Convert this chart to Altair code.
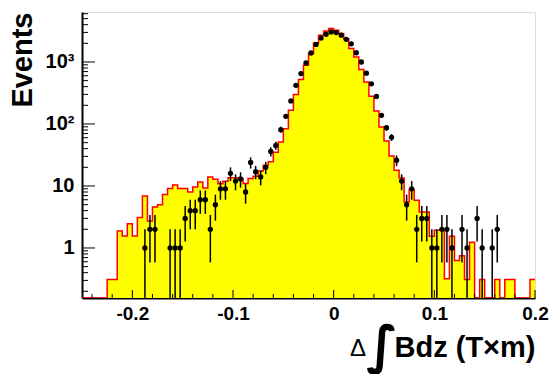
import altair as alt
import pandas as pd
import numpy as np

# ---------------- data ----------------
x_lo, x_hi = -0.25, 0.2
bin_w = 0.005
y_lo, y_hi = 0.156, 6400

sim_counts = [
    0, 0, 0, 0, 0,  0.31, 0.31, 1.88, 1.56, 2.47,
    1.56, 3.09, 6.9, 2.72, 4.58,  5.0, 7.3, 9.1, 10.4, 9.1,
    9.1, 8.0, 9.6, 11.6, 9.3,  14, 12.8, 10.9, 11.9, 13.6,
    13.6, 13.2, 11, 13.2, 14.3,  17.5, 21.5, 24.5, 35, 51,
    84, 167, 300, 520, 885,  1365, 2020, 2700, 3160, 3460,
    3250, 2870, 2380, 1645, 1205,  754, 475, 280, 162, 89,
    53, 30.5, 17.9, 13.5, 5.5,  8.7, 5.9, 3.8, 3.8, 1.55,
    1.93, 1.93, 0.32, 1.55, 0.63,  0.75, 0.31, 1.24, 0, 0.31,
    0, 0, 0.31, 0, 0.31,  0.31, 0, 0, 0, 0.31,
]

data_counts = [
    0, 0, 0, 0, 0,  0, 0, 0, 0, 0,
    0, 0, 1, 2, 2,  0, 0, 1, 1, 1,
    3, 4, 4, 6, 6,  2, 5, 9, 9, 16,
    12, 13, 8, 24, 17,  14, 20, 36, 45, 81,
    133, 235, 421, 650, 964,  1397, 1920, 2430, 2800, 3050,
    2980, 2710, 2320, 1960, 1410,  1000, 660, 445, 278, 138,
    87, 61, 26, 12, 5,  9, 2, 3, 3, 1,
    1, 2, 2, 1, 0,  2, 1, 0, 3, 1,
    0, 1, 2, 0, 0,  0, 0, 0, 0, 0,
]

x_major = [-0.2, -0.1, 0.0, 0.1, 0.2]
x_labels = ["-0.2", "-0.1", "0", "0.1", "0.2"]
x_minor = [-0.24, -0.22, -0.18, -0.16, -0.14, -0.12, -0.08, -0.06, -0.04,
           -0.02, 0.02, 0.04, 0.06, 0.08, 0.12, 0.14, 0.16, 0.18]
y_major = [1, 10, 100, 1000]
y_labels = ["1", "10", "10²", "10³"]
y_minor = [0.2, 0.3, 0.4, 0.5, 0.6, 0.7, 0.8, 0.9,
           2, 3, 4, 5, 6, 7, 8, 9,
           20, 30, 40, 50, 60, 70, 80, 90,
           200, 300, 400, 500, 600, 700, 800, 900,
           2000, 3000, 4000, 5000, 6000]
y_title = "Events"
x_title = "Bdz (T×m)"
delta_text = ["Δ"]
integral_text = ["∫"]

assert len(sim_counts) == 90 and len(data_counts) == 90

# ---------------- tables ----------------
n_bins = len(sim_counts)
edges = x_lo + bin_w * np.arange(n_bins + 1)
sim_vals = [max(v, y_lo) for v in sim_counts] + [max(sim_counts[-1], y_lo)]
hist_df = pd.DataFrame({"x": edges, "v": sim_vals, "base": y_lo})

centers = x_lo + bin_w * (np.arange(n_bins) + 0.5)
pts = pd.DataFrame({"x": centers, "n": data_counts})
pts = pts[pts["n"] > 0].copy()
pts["lo"] = np.maximum(pts["n"] - np.sqrt(pts["n"]), y_lo)
pts["hi"] = pts["n"] + np.sqrt(pts["n"])

FONT = "Liberation Sans"
W, H = 453, 286

xscale = alt.Scale(domain=[x_lo, x_hi], nice=False, zero=False)
yscale = alt.Scale(type="log", domain=[y_lo, y_hi], nice=False)

x_expr = " : ".join(
    f"abs(datum.value - ({v})) < 0.01 ? '{l}'" for v, l in zip(x_major, x_labels)
) + " : ''"
y_expr = " : ".join(
    f"abs(datum.value - {v}) < {v}*0.01 ? '{l}'" for v, l in zip(y_major, y_labels)
) + " : ''"

x_axis = alt.Axis(
    values=x_major, labelExpr=x_expr, ticks=False, grid=False,
    domainColor="black", domainWidth=2, labelFlush=False,
    labelFont=FONT, labelFontWeight="bold", labelFontSize=19, labelColor="black",
    labelPadding=6, title=x_title, titleFont=FONT, titleFontWeight="bold",
    titleFontSize=29, titleColor="black", titleAnchor="end", titleAlign="right",
    titleBaseline="alphabetic", titleX=W, titleY=58,
)
y_axis = alt.Axis(
    values=y_major, labelExpr=y_expr, ticks=False, grid=False,
    domainColor="black", domainWidth=2,
    labelFont=FONT, labelFontWeight="bold", labelFontSize=20, labelColor="black",
    labelPadding=8, title=y_title, titleFont=FONT, titleFontWeight="bold",
    titleFontSize=29, titleColor="black", titleAnchor="end", titleAngle=-90,
    titleAlign="right", titleBaseline="middle", titleX=-60, titleY=0,
)

def X(field):
    return alt.X(field, scale=xscale, axis=x_axis)

def Y(field):
    return alt.Y(field, scale=yscale, axis=y_axis)

area = alt.Chart(hist_df).mark_area(
    interpolate="step-after", color="#ffff00", clip=True
).encode(x=X("x:Q"), y=Y("v:Q"), y2="base:Q")
outline = alt.Chart(hist_df).mark_line(
    interpolate="step-after", color="#ff0000", strokeWidth=1.5, clip=True
).encode(x=X("x:Q"), y=Y("v:Q"))
errs = alt.Chart(pts).mark_rule(color="black", strokeWidth=1.5, clip=True).encode(
    x=X("x:Q"), y=Y("lo:Q"), y2="hi:Q"
)
dots = alt.Chart(pts).mark_circle(color="black", opacity=1, size=28).encode(
    x=X("x:Q"), y=Y("n:Q")
)

xmaj = alt.Chart(pd.DataFrame({"t": x_major})).mark_rule(color="black", strokeWidth=1).encode(
    x=X("t:Q"), y=alt.value(H), y2=alt.value(H - 8)
)
xmin_ = alt.Chart(pd.DataFrame({"t": x_minor})).mark_rule(color="black", strokeWidth=1).encode(
    x=X("t:Q"), y=alt.value(H), y2=alt.value(H - 4)
)
ymaj = alt.Chart(pd.DataFrame({"t": y_major})).mark_rule(color="black", strokeWidth=1).encode(
    y=Y("t:Q"), x=alt.value(0), x2=alt.value(13)
)
ymin_ = alt.Chart(pd.DataFrame({"t": y_minor})).mark_rule(color="black", strokeWidth=1).encode(
    y=Y("t:Q"), x=alt.value(0), x2=alt.value(6)
)

delta = alt.Chart(pd.DataFrame({"s": delta_text})).mark_text(
    font=FONT, fontSize=24, color="black", align="center", baseline="alphabetic"
).encode(text="s:N", x=alt.value(276), y=alt.value(344))
integral = alt.Chart(pd.DataFrame({"s": integral_text})).mark_text(
    font="DejaVu Sans", fontWeight="bold", fontSize=52, color="black",
    align="center", baseline="alphabetic"
).encode(text="s:N", x=alt.value(300), y=alt.value(351))

chart = alt.layer(
    area, outline, errs, dots, xmaj, xmin_, ymaj, ymin_, delta, integral
).properties(
    width=W, height=H,
    padding={"left": 82, "top": 12, "right": 15, "bottom": 76},
    autosize="none",
).configure_view(stroke="#444", strokeWidth=1.5).configure(background="white")

chart.save("out.html", embed_options={"renderer": "svg", "actions": False})
